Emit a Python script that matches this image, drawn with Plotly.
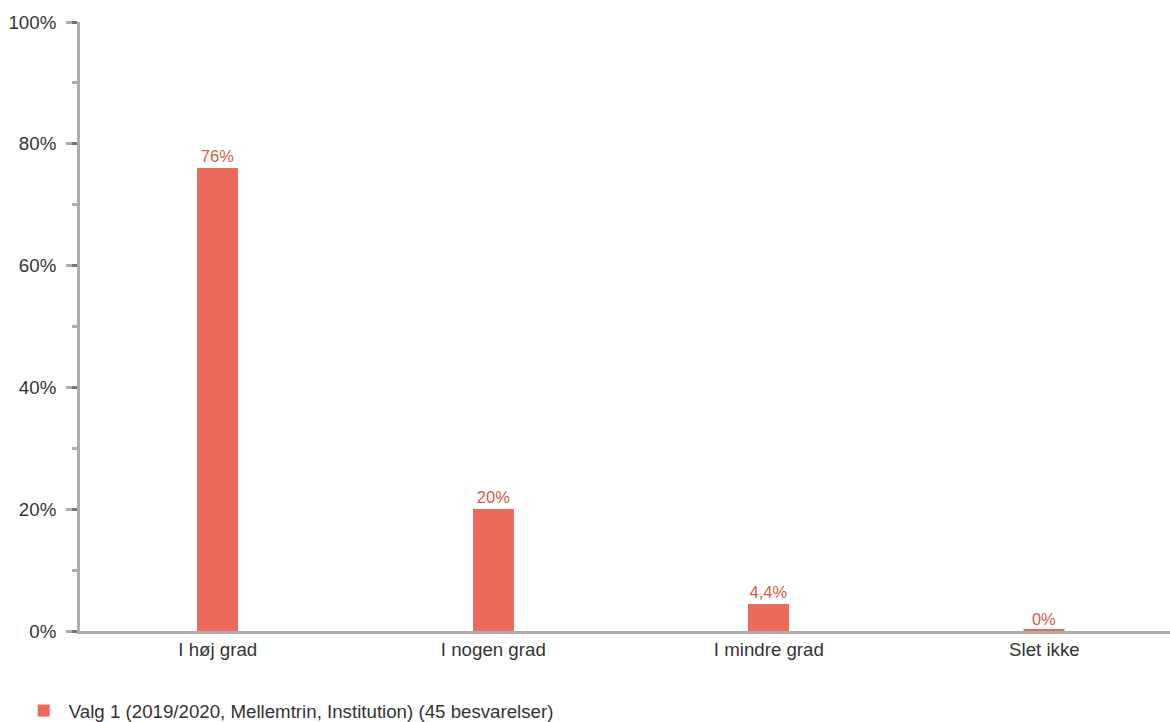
import plotly.graph_objects as go

categories = ["I høj grad", "I nogen grad", "I mindre grad", "Slet ikke"]
values = [76, 20, 4.4, 0]
value_labels = ["76%", "20%", "4,4%", "0%"]
series_name = "Valg 1 (2019/2020, Mellemtrin, Institution) (45 besvarelser)"
y_tickvals = [0, 20, 40, 60, 80, 100]
y_ticktext = ["0%", "20%", "40%", "60%", "80%", "100%"]

bar_color = "#EC6A5C"
label_color = "#D65A4B"
axis_color = "rgba(0,0,0,0.32)"
text_color = "#333333"
font_family = "Liberation Sans, Arial, sans-serif"

fig = go.Figure()
fig.add_trace(go.Bar(
    x=list(range(len(categories))),
    y=values,
    width=0.15,
    name=series_name,
    marker=dict(color=bar_color,
                line=dict(color=bar_color, width=[0 if v > 0 else 3 for v in values])),
    text=value_labels,
    textposition="outside",
    cliponaxis=False,
    textfont=dict(color=label_color, size=16.5, family=font_family),
    hoverinfo="skip",
))

fig.update_layout(
    width=1170, height=722,
    margin=dict(l=80, r=0, t=22, b=91, autoexpand=False),
    paper_bgcolor="white", plot_bgcolor="white",
    font=dict(family=font_family, size=18.7, color=text_color),
    showlegend=True,
    legend=dict(orientation="h", x=0.016, xanchor="left", xref="container",
                y=-0.131, yanchor="middle", yref="paper",
                font=dict(size=18.7, color=text_color),
                itemwidth=40),
    bargap=0,
)
fig.update_xaxes(
    range=[-0.5, 3.456],
    tickvals=list(range(len(categories))),
    ticktext=categories,
    showline=True, linecolor=axis_color, linewidth=3,
    showgrid=False, zeroline=False, ticks="",
    layer="above traces",
    tickfont=dict(size=18.7, color=text_color),
)
fig.update_yaxes(
    range=[0, 100],
    tickvals=y_tickvals, ticktext=y_ticktext,
    showline=True, linecolor=axis_color, linewidth=3,
    showgrid=False, zeroline=False,
    ticks="outside", ticklen=11, tickwidth=3, tickcolor=axis_color,
    minor=dict(dtick=10, ticks="outside", ticklen=5, tickwidth=3, tickcolor=axis_color),
    ticklabelstandoff=6,
    layer="above traces",
    tickfont=dict(size=18.7, color=text_color),
)

fig.write_html("out.html", config={"displayModeBar": False},
               post_script="document.body.style.margin='0';")
